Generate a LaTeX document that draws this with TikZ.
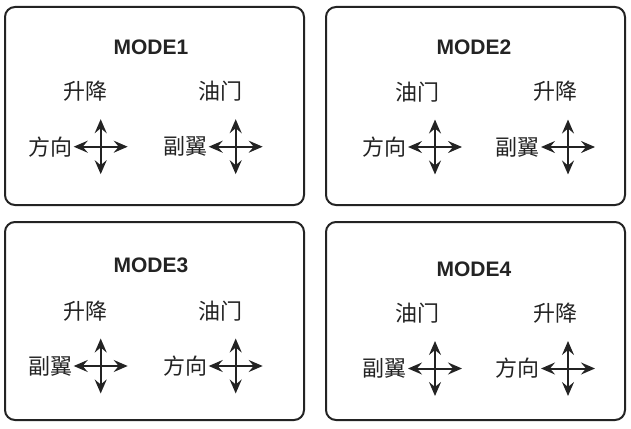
\documentclass[tikz,border=0pt]{standalone}
\usepackage{fontspec}
\setmainfont{Liberation Sans}
\newfontfamily\cjk{Noto Sans CJK SC}
\usetikzlibrary{positioning, arrows.meta}
\definecolor{ink}{HTML}{232323}
\tikzset{
    panel/.style={ % the four mode boxes
        draw=ink,
        line width=2pt,
        rounded corners=10pt,
        minimum width=299pt,
        minimum height=198pt
    },
    modetitle/.style={font=\bfseries\fontsize{21}{21}\selectfont, text=ink},
    chan/.style={ % channel names
        font=\cjk\fontsize{22}{22}\selectfont,
        text=ink,
        inner sep=1pt
    },
    stick/.style={ % one axis of a stick cross
        draw=ink,
        line width=2pt,
        {Stealth[length=14pt,width=12pt,inset=5pt]}-{Stealth[length=14pt,width=12pt,inset=5pt]}
    }
}

\begin{document}
\begin{tikzpicture}[x=1pt,y=-1pt]
        \useasboundingbox (0,0) rectangle (631,428);
        % boxes
        \node[panel]    (p1)    at (154.5,106)  {};
        \node[panel]    (p2)    at (475.5,106)  {};
        \node[panel]    (p3)    at (154.5,321)  {};
        \node[panel]    (p4)    at (475.5,321)  {};
        % titles
        \node[modetitle]    (t1)    at (151,47)     {MODE1};
        \node[modetitle]    (t2)    at (474,47)     {MODE2};
        \node[modetitle]    (t3)    at (151,265.5)  {MODE3};
        \node[modetitle]    (t4)    at (474,269)    {MODE4};
        % stick centres
        \coordinate (s1a) at (100.7,146.7);
        \coordinate (s1b) at (235.7,146.7);
        \coordinate (s2a) at (435,147);
        \coordinate (s2b) at (568,147);
        \coordinate (s3a) at (100.7,366);
        \coordinate (s3b) at (235.7,366);
        \coordinate (s4a) at (435,368.5);
        \coordinate (s4b) at (568,368.5);
        % MODE1
        \node[chan, above=44pt of s1a, xshift=-15.7pt]  (u1a)   {升降};
        \node[chan, above=44pt of s1b, xshift=-15.7pt]  (u1b)   {油门};
        \node[chan, left=27pt of s1a]                   (l1a)   {方向};
        \node[chan, left=27pt of s1b]                   (l1b)   {副翼};
        % MODE2
        \node[chan, above=44pt of s2a, xshift=-18pt]    (u2a)   {油门};
        \node[chan, above=44pt of s2b, xshift=-13pt]    (u2b)   {升降};
        \node[chan, left=27pt of s2a]                   (l2a)   {方向};
        \node[chan, left=27pt of s2b]                   (l2b)   {副翼};
        % MODE3
        \node[chan, above=44pt of s3a, xshift=-15.7pt]  (u3a)   {升降};
        \node[chan, above=44pt of s3b, xshift=-15.7pt]  (u3b)   {油门};
        \node[chan, left=27pt of s3a]                   (l3a)   {副翼};
        \node[chan, left=27pt of s3b]                   (l3b)   {方向};
        % MODE4
        \node[chan, above=44pt of s4a, xshift=-18pt]    (u4a)   {油门};
        \node[chan, above=44pt of s4b, xshift=-13pt]    (u4b)   {升降};
        \node[chan, left=27pt of s4a]                   (l4a)   {副翼};
        \node[chan, left=27pt of s4b]                   (l4b)   {方向};

        % crosses
        \draw[stick] (l1a.east) -- ([xshift=27pt]s1a);
        \draw[stick] ([yshift=-27.5pt]s1a) -- ([yshift=27.5pt]s1a);
        \draw[stick] (l1b.east) -- ([xshift=27pt]s1b);
        \draw[stick] ([yshift=-27.5pt]s1b) -- ([yshift=27.5pt]s1b);
        \draw[stick] (l2a.east) -- ([xshift=27pt]s2a);
        \draw[stick] ([yshift=-27.5pt]s2a) -- ([yshift=27.5pt]s2a);
        \draw[stick] (l2b.east) -- ([xshift=27pt]s2b);
        \draw[stick] ([yshift=-27.5pt]s2b) -- ([yshift=27.5pt]s2b);
        \draw[stick] (l3a.east) -- ([xshift=27pt]s3a);
        \draw[stick] ([yshift=-27.5pt]s3a) -- ([yshift=27.5pt]s3a);
        \draw[stick] (l3b.east) -- ([xshift=27pt]s3b);
        \draw[stick] ([yshift=-27.5pt]s3b) -- ([yshift=27.5pt]s3b);
        \draw[stick] (l4a.east) -- ([xshift=27pt]s4a);
        \draw[stick] ([yshift=-27.5pt]s4a) -- ([yshift=27.5pt]s4a);
        \draw[stick] (l4b.east) -- ([xshift=27pt]s4b);
        \draw[stick] ([yshift=-27.5pt]s4b) -- ([yshift=27.5pt]s4b);
\end{tikzpicture}
\end{document}
